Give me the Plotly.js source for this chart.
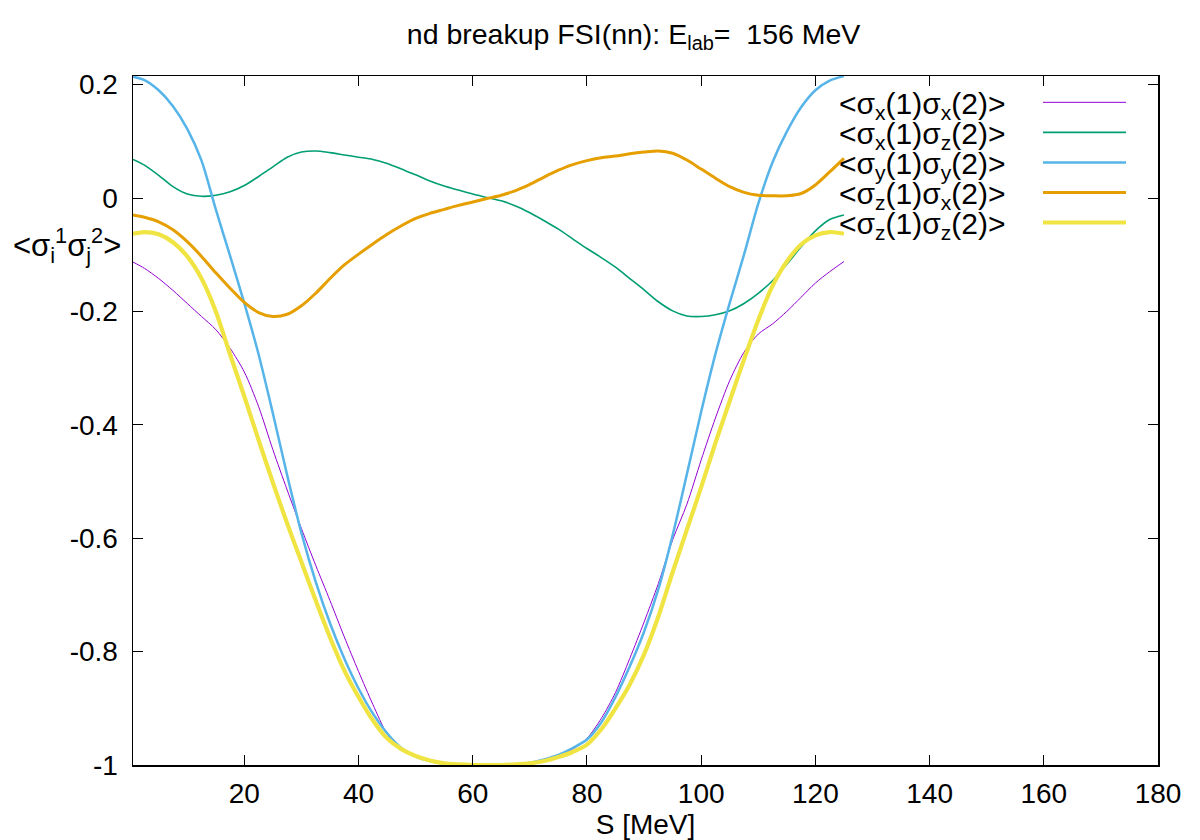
<!DOCTYPE html>
<html>
<head>
<meta charset="utf-8">
<script src="https://cdn.plot.ly/plotly-3.0.1.min.js"></script>
<style>
html,body{margin:0;padding:0;background:#fff;}
#chart{width:1200px;height:840px;}
</style>
</head>
<body>
<div id="chart"></div>
<script>
// S [MeV]
const S = [0.5, 2.5, 5, 7.5, 10, 12.5, 15, 17.5, 20, 22.5, 25, 27.5, 30, 32.5, 35, 37.5, 40, 42.5, 45, 47.5,
  50, 52.5, 55, 57.5, 60, 62.5, 65, 67.5, 70, 72.5, 75, 77.5, 80, 82.5, 85, 87.5, 90, 92.5, 95, 97.5,
  100, 102.5, 105, 107.5, 110, 112.5, 115, 117.5, 120, 122.5, 125];

const sxsx = [-0.113, -0.124, -0.142, -0.163, -0.186, -0.209, -0.232, -0.265, -0.307, -0.368, -0.444, -0.515, -0.583, -0.648, -0.710, -0.774, -0.835, -0.893, -0.945, -0.972,
  -0.985, -0.993, -0.997, -0.999, -1.0, -1.0, -1.0, -0.999, -0.996, -0.991, -0.983, -0.972, -0.953, -0.918, -0.872, -0.812, -0.748, -0.680, -0.603, -0.540,
  -0.462, -0.388, -0.322, -0.272, -0.240, -0.222, -0.200, -0.175, -0.150, -0.130, -0.112];

const sxsz = [0.068, 0.058, 0.040, 0.020, 0.007, 0.003, 0.005, 0.011, 0.022, 0.038, 0.055, 0.072, 0.081, 0.083, 0.080, 0.076, 0.072, 0.068, 0.061, 0.051,
  0.041, 0.030, 0.021, 0.014, 0.007, 0.001, -0.005, -0.014, -0.026, -0.040, -0.055, -0.072, -0.089, -0.105, -0.122, -0.142, -0.162, -0.183, -0.199, -0.208,
  -0.209, -0.206, -0.199, -0.186, -0.168, -0.146, -0.117, -0.086, -0.058, -0.038, -0.030];

const sysy = [0.214, 0.208, 0.190, 0.162, 0.122, 0.066, -0.020, -0.102, -0.186, -0.276, -0.380, -0.489, -0.591, -0.677, -0.750, -0.812, -0.865, -0.909, -0.944, -0.970,
  -0.985, -0.993, -0.998, -1.0, -1.0, -1.0, -1.0, -0.999, -0.996, -0.990, -0.982, -0.970, -0.955, -0.925, -0.880, -0.826, -0.765, -0.690, -0.595, -0.487,
  -0.377, -0.275, -0.185, -0.100, -0.010, 0.063, 0.117, 0.160, 0.190, 0.207, 0.215];

const szsx = [-0.030, -0.034, -0.042, -0.056, -0.077, -0.103, -0.132, -0.159, -0.184, -0.202, -0.209, -0.205, -0.190, -0.168, -0.142, -0.118, -0.099, -0.081, -0.064, -0.049,
  -0.036, -0.027, -0.020, -0.013, -0.007, -0.001, 0.005, 0.013, 0.024, 0.037, 0.049, 0.059, 0.066, 0.071, 0.074, 0.078, 0.081, 0.083, 0.079, 0.067,
  0.051, 0.035, 0.020, 0.010, 0.005, 0.004, 0.004, 0.008, 0.023, 0.046, 0.070];

const szsz = [-0.063, -0.060, -0.064, -0.078, -0.103, -0.142, -0.200, -0.276, -0.350, -0.427, -0.502, -0.574, -0.642, -0.710, -0.775, -0.833, -0.880, -0.921, -0.953, -0.972,
  -0.984, -0.992, -0.997, -0.999, -1.0, -1.0, -1.0, -0.999, -0.997, -0.993, -0.986, -0.977, -0.964, -0.937, -0.900, -0.858, -0.805, -0.738, -0.660, -0.585,
  -0.510, -0.432, -0.358, -0.285, -0.215, -0.155, -0.112, -0.082, -0.066, -0.060, -0.063];

const seriesNames = [
  "&lt;σ<sub>x</sub>(1)σ<sub>x</sub>(2)&gt;",
  "&lt;σ<sub>x</sub>(1)σ<sub>z</sub>(2)&gt;",
  "&lt;σ<sub>y</sub>(1)σ<sub>y</sub>(2)&gt;",
  "&lt;σ<sub>z</sub>(1)σ<sub>x</sub>(2)&gt;",
  "&lt;σ<sub>z</sub>(1)σ<sub>z</sub>(2)&gt;"
];
const seriesValues = [sxsx, sxsz, sysy, szsx, szsz];
const colors = ["#9400d3", "#009e73", "#56b4e9", "#e69f00", "#f0e442"];
const widths = [1, 1.6, 2.5, 3, 4.2];

const xTickVals = [20, 40, 60, 80, 100, 120, 140, 160, 180];
const yTickVals = [-1, -0.8, -0.6, -0.4, -0.2, 0, 0.2];
const yTickText = ["-1", "-0.8", "-0.6", "-0.4", "-0.2", "0", "0.2"];

const FONT = "Liberation Sans, Arial, Helvetica, sans-serif";

const traces = seriesValues.map((vals, i) => ({
  type: "scatter",
  mode: "lines",
  x: S,
  y: vals,
  name: seriesNames[i],
  line: {color: colors[i], width: widths[i], shape: "spline", smoothing: 0.8},
  showlegend: false,
  hoverinfo: "skip"
}));

// gnuplot-style key: text right-aligned, sample line to the right
const keyTop = 0.9618, keyStep = 0.0436;
const shapes = [];
const annotations = [];
seriesNames.forEach((nm, i) => {
  const yy = keyTop - i * keyStep;
  shapes.push({type: "line", xref: "paper", yref: "paper", x0: 0.8878, x1: 0.9688, y0: yy, y1: yy,
    line: {color: colors[i], width: widths[i]}});
  annotations.push({xref: "paper", yref: "paper", x: 0.853, y: yy, xanchor: "right", yanchor: "middle",
    yshift: -3, text: nm, showarrow: false, font: {family: FONT, size: 30, color: "#000"}});
});
annotations.push({xref: "paper", yref: "y", x: 0, y: -0.083, xanchor: "right", yanchor: "middle", xshift: -10,
  text: "&lt;σ<sub>i</sub><sup>1</sup>σ<sub>j</sub><sup>2</sup>&gt;", showarrow: false,
  font: {family: FONT, size: 31, color: "#000"}});

const layout = {
  width: 1200, height: 840,
  margin: {l: 133, r: 42, t: 76, b: 75},
  paper_bgcolor: "#fff", plot_bgcolor: "#fff",
  font: {family: FONT, size: 28, color: "#000"},
  title: {text: "nd breakup FSI(nn): E<sub>lab</sub>=\u00a0 156 MeV", x: 0.528, xanchor: "center",
    y: 0.959, yanchor: "middle", font: {family: FONT, size: 28.5, color: "#000"}},
  xaxis: {
    range: [0.5, 180], tickvals: xTickVals, ticks: "inside", ticklen: 10, tickwidth: 1, tickcolor: "#000",
    showline: true, linecolor: "#000", linewidth: 1.5, mirror: "ticks", showgrid: false, zeroline: false,
    tickfont: {family: FONT, size: 28, color: "#000"}, ticklabelstandoff: 3,
    title: {text: "S [MeV]", font: {family: FONT, size: 28, color: "#000"}, standoff: 3}
  },
  yaxis: {
    range: [-1, 0.2152], tickvals: yTickVals, ticktext: yTickText, ticks: "inside", ticklen: 10, tickwidth: 1, tickcolor: "#000",
    showline: true, linecolor: "#000", linewidth: 1.5, mirror: "ticks", showgrid: false, zeroline: false,
    tickfont: {family: FONT, size: 28, color: "#000"}, ticklabelstandoff: 8
  },
  shapes: shapes,
  annotations: annotations,
  showlegend: false
};

Plotly.newPlot("chart", traces, layout, {staticPlot: true, displayModeBar: false});
</script>
</body>
</html>
